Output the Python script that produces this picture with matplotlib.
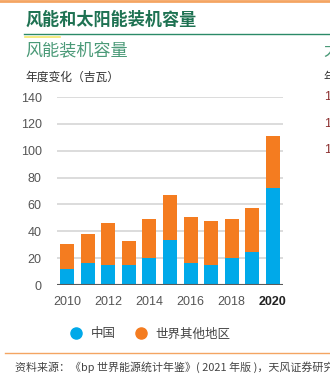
import matplotlib
matplotlib.use('Agg')
import matplotlib.pyplot as plt
from matplotlib.lines import Line2D
import numpy as np

plt.rcParams['font.family'] = ['Noto Sans CJK SC', 'DejaVu Sans']

years = [2010, 2011, 2012, 2013, 2014, 2015, 2016, 2017, 2018, 2019, 2020]
china = [11.7, 16.2, 14.9, 14.9, 19.9, 33.6, 16.7, 14.9, 19.9, 24.9, 72.1]
total = [30.3, 38.3, 46.5, 32.8, 48.8, 66.7, 50.5, 47.3, 49.0, 57.7, 110.7]
rest = [t - c for t, c in zip(total, china)]
yticks = [0, 20, 40, 60, 80, 100, 120, 140]
xtick_years = [2010, 2012, 2014, 2016, 2018, 2020]

BLUE = '#00a9e9'
ORANGE = '#f47c20'
W, H = 330, 380

fig = plt.figure(figsize=(W / 100, H / 100), dpi=100)

def fx(px):
    return px / W

def fy(py):
    return 1 - py / H

ax = fig.add_axes([fx(57), fy(285), fx(283) - fx(57), fy(97) - fy(285)])
x = np.arange(len(years))
ax.bar(x, china, width=0.68, color=BLUE, zorder=3)
ax.bar(x, rest, width=0.68, bottom=china, color=ORANGE, zorder=3)

ax.set_xlim(-0.49, len(years) - 0.51)
ax.set_ylim(0, 140)
ax.set_yticks(yticks)
ax.set_yticklabels([str(v) for v in yticks], fontsize=9, color='#555555',
                   family='Liberation Sans')
ax.set_xticks([years.index(y) for y in xtick_years])
ax.set_xticklabels([str(y) for y in xtick_years], fontsize=9, color='#555555',
                   family='Liberation Sans')
ax.get_xticklabels()[-1].set_fontweight('bold')
ax.get_xticklabels()[-1].set_color('#222222')
ax.tick_params(length=0)
ax.tick_params(axis='y', pad=11)
ax.tick_params(axis='x', pad=8)
for s in ax.spines.values():
    s.set_visible(False)
for v in yticks[1:]:
    ax.axhline(v, color='#d9d9d9', lw=1.3, zorder=1)
ax.axhline(0, color='#5a5a5a', lw=1.5, zorder=4)

# legend
handles = [Line2D([], [], marker='o', ls='', color=BLUE, markersize=8),
           Line2D([], [], marker='o', ls='', color=ORANGE, markersize=8)]
fig.legend(handles, ['中国', '世界其他地区'], loc='center left',
           bbox_to_anchor=(fx(52), fy(334)), ncol=2, frameon=False,
           fontsize=9, handletextpad=0.2, columnspacing=1.0,
           labelcolor='#444444')

# titles and decoration
fig.add_artist(Line2D([0, 1], [fy(0.5), fy(0.5)], color='#f4a562', lw=2))
fig.text(fx(25), fy(20), '风能和太阳能装机容量', fontsize=12.3, fontweight='bold',
         color='#1e7252', va='center')
fig.add_artist(Line2D([fx(24), 1], [fy(34), fy(34)], color='#2b8a68', lw=1))
fig.add_artist(Line2D([fx(25), fx(60)], [fy(37), fy(37)], color='#f3e86a', lw=1.2))
fig.text(fx(25), fy(51), '风能装机容量', fontsize=12.3, color='#4b9a78', va='center')
fig.text(fx(25), fy(77), '年度变化（吉瓦）', fontsize=8.5, color='#333333', va='center')

# clipped neighbour panel on the right
fig.text(fx(323), fy(51), '太阳能装机容量', fontsize=12.3, color='#4b9a78', va='center')
fig.text(fx(323), fy(77), '年度变化（吉瓦）', fontsize=8.5, color='#333333', va='center')
for py in [97, 124, 150]:
    fig.text(fx(324), fy(py), '150', fontsize=9, color='#8b2e2e', va='center',
             family='Liberation Sans')

# footer
fig.add_artist(Line2D([fx(5), 1], [fy(353), fy(353)], color='#f4a562', lw=1))
fig.text(fx(15), fy(367), '资料来源：《bp 世界能源统计年鉴》( 2021 年版 )，天风证券研究所',
         fontsize=7.9, color='#444444', va='center')

fig.savefig('out.png', dpi=100)
